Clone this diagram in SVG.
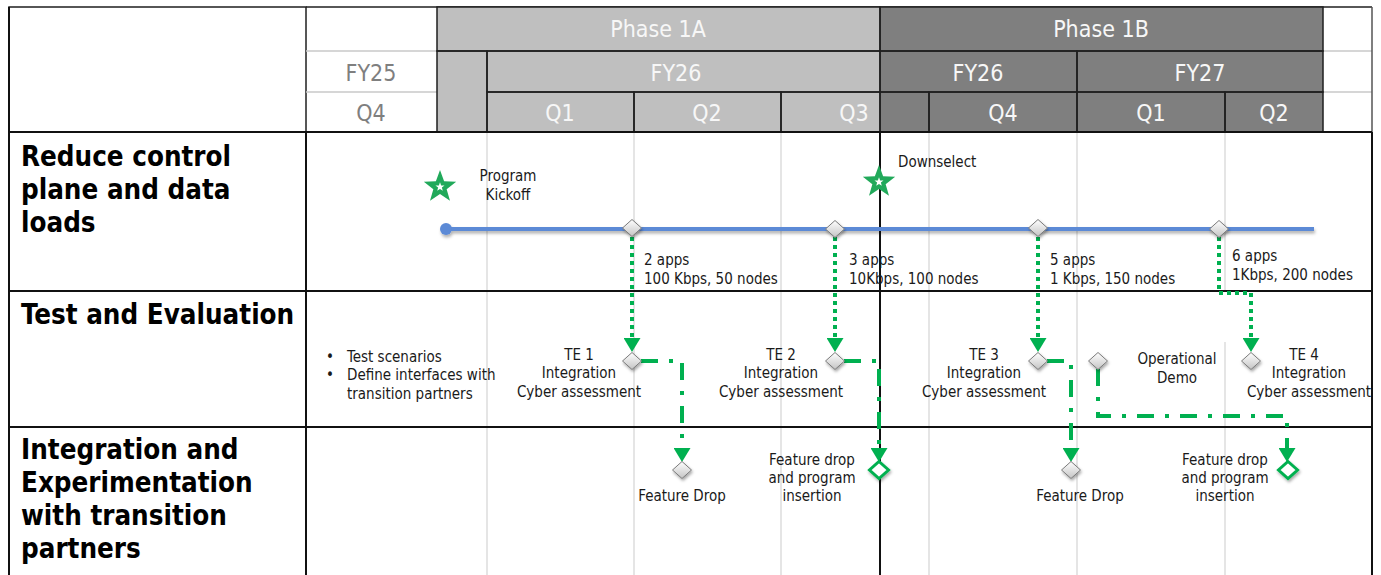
<svg xmlns="http://www.w3.org/2000/svg" width="1381" height="575" viewBox="0 0 1381 575">
<style>
text{font-family:"DejaVu Sans Condensed","Liberation Sans",sans-serif}
.hw{font-size:23px;fill:#f7f7f7;text-anchor:middle}
.hg{font-size:23px;fill:#7f7f7f;text-anchor:middle}
.lbl{font-size:27.5px;font-weight:bold;fill:#000}
.t{font-size:15px;fill:#1a1a1a}
.c{text-anchor:middle}
.dk{stroke:#1f1f1f;stroke-width:1.5;fill:none}
.lt{stroke:#c8c8c8;stroke-width:1.5}
.grid{stroke:#d4d4d4;stroke-width:1.2}
.bord{stroke:#111;stroke-width:2;fill:none}
.dot{fill:none;stroke:#00b050;stroke-width:4;stroke-dasharray:4 4;marker-end:url(#ah)}
.dd{fill:none;stroke:#00b050;stroke-width:4;stroke-dasharray:17 11 4 11;marker-end:url(#ah)}
.ms{fill:url(#dg);stroke:#7a7a7a;stroke-width:1;filter:url(#sh)}
.gms{fill:#fff;stroke:#00b050;stroke-width:3;filter:url(#sh)}
.star{fill:#21a95a}
</style>
<defs>
<linearGradient id="dg" x1="0" y1="0" x2="0" y2="1"><stop offset="0" stop-color="#ffffff"/><stop offset="1" stop-color="#c4c4c4"/></linearGradient>
<filter id="sh" x="-60%" y="-60%" width="220%" height="220%"><feDropShadow dx="1" dy="2" stdDeviation="1.5" flood-color="#000" flood-opacity="0.35"/></filter>
<filter id="shl" filterUnits="userSpaceOnUse" x="420" y="210" width="920" height="40"><feDropShadow dx="1" dy="2.5" stdDeviation="1.5" flood-color="#000" flood-opacity="0.3"/></filter>
<marker id="ah" markerUnits="userSpaceOnUse" markerWidth="14" markerHeight="17" viewBox="0 0 14 17" refX="0" refY="8.5" orient="auto"><path d="M0,0 L14,8.5 L0,17 Z" fill="#00b050"/></marker>
<path id="dia" d="M0,-8.5 L9.5,0 L0,8.5 L-9.5,0 Z"/>
<g id="st"><path class="star" d="M0,-17 L4.11,-5.66 L16.17,-5.25 L6.66,2.16 L9.99,13.75 L0,7 L-9.99,13.75 L-6.66,2.16 L-16.17,-5.25 L-4.11,-5.66 Z"/><path fill="#fff" transform="scale(0.28)" d="M0,-17 L4.11,-5.66 L16.17,-5.25 L6.66,2.16 L9.99,13.75 L0,7 L-9.99,13.75 L-6.66,2.16 L-16.17,-5.25 L-4.11,-5.66 Z"/></g>
</defs>
<rect width="1381" height="575" fill="#fff"/>

<g id="header">
  <rect x="9" y="7" width="297" height="125" fill="#fff" class="dk"/>
  <line x1="306" y1="51" x2="437" y2="51" class="lt"/>
  <line x1="306" y1="92" x2="437" y2="92" class="lt"/>
  <line x1="1323" y1="51" x2="1372" y2="51" class="lt"/>
  <line x1="1323" y1="92" x2="1372" y2="92" class="lt"/>
  <line x1="306" y1="7" x2="1372" y2="7" class="dk"/>
  <line x1="1372" y1="7" x2="1372" y2="132" stroke="#555" stroke-width="1.5"/>
  <text x="371" y="81" class="hg">FY25</text>
  <text x="371" y="121" class="hg">Q4</text>
  <rect x="437" y="7" width="443" height="125" fill="#bfbfbf"/>
  <rect x="880" y="7" width="443" height="125" fill="#7f7f7f"/>
  <rect x="437" y="7" width="443" height="44" class="dk"/>
  <rect x="487" y="51" width="393" height="41" class="dk"/>
  <rect x="437" y="51" width="50" height="81" class="dk"/>
  <rect x="487" y="92" width="147" height="40" class="dk"/>
  <rect x="634" y="92" width="147" height="40" class="dk"/>
  <rect x="781" y="92" width="99" height="40" class="dk"/>
  <rect x="880" y="7" width="443" height="44" class="dk"/>
  <rect x="880" y="51" width="197" height="41" class="dk"/>
  <rect x="1077" y="51" width="246" height="41" class="dk"/>
  <rect x="880" y="92" width="49" height="40" class="dk"/>
  <rect x="929" y="92" width="148" height="40" class="dk"/>
  <rect x="1077" y="92" width="148" height="40" class="dk"/>
  <rect x="1225" y="92" width="98" height="40" class="dk"/>
  <text x="658" y="37" class="hw">Phase 1A</text>
  <text x="1101" y="37" class="hw">Phase 1B</text>
  <text x="676" y="81" class="hw">FY26</text>
  <text x="978" y="81" class="hw">FY26</text>
  <text x="1200" y="81" class="hw">FY27</text>
  <text x="560" y="121" class="hw">Q1</text>
  <text x="707" y="121" class="hw">Q2</text>
  <text x="854" y="121" class="hw">Q3</text>
  <text x="1003" y="121" class="hw">Q4</text>
  <text x="1151" y="121" class="hw">Q1</text>
  <text x="1274" y="121" class="hw">Q2</text>
</g>

<g id="grid">
  <line x1="487" y1="132" x2="487" y2="575" class="grid"/>
  <line x1="634" y1="132" x2="634" y2="575" class="grid"/>
  <line x1="781" y1="132" x2="781" y2="575" class="grid"/>
  <line x1="929" y1="132" x2="929" y2="575" class="grid"/>
  <line x1="1077" y1="132" x2="1077" y2="575" class="grid"/>
  <line x1="1225" y1="132" x2="1225" y2="291" class="grid"/>
  <line x1="1225" y1="342" x2="1225" y2="575" class="grid"/>
  <line x1="880" y1="132" x2="880" y2="575" class="bord"/>
  <line x1="9" y1="132" x2="1372" y2="132" class="bord" stroke-width="2.5"/>
  <line x1="9" y1="291" x2="1372" y2="291" class="bord"/>
  <line x1="9" y1="427" x2="1372" y2="427" class="bord"/>
  <line x1="9" y1="7" x2="9" y2="575" class="bord" stroke-width="2.5"/>
  <line x1="306" y1="132" x2="306" y2="575" class="bord"/>
  <line x1="1372" y1="132" x2="1372" y2="575" class="bord"/>
</g>

<g id="row-labels">
  <text class="lbl" x="21" y="166">Reduce control</text>
  <text class="lbl" x="21" y="199">plane and data</text>
  <text class="lbl" x="21" y="232">loads</text>
  <text class="lbl" x="21" y="324">Test and Evaluation</text>
  <text class="lbl" x="21" y="459">Integration and</text>
  <text class="lbl" x="21" y="492">Experimentation</text>
  <text class="lbl" x="21" y="525">with transition</text>
  <text class="lbl" x="21" y="558">partners</text>
</g>

<g id="timeline" filter="url(#shl)">
  <rect x="446" y="227" width="868" height="4" fill="#5b8ad6"/>
  <circle cx="446" cy="229" r="6" fill="#5b8ad6"/>
</g>

<g id="connectors">
  <path class="dot" d="M632,237 V338"/>
  <path class="dot" d="M835,237 V338"/>
  <path class="dot" d="M1038,237 V338"/>
  <path class="dot" d="M1219,237 V293 H1251 V338"/>
  <path class="dd" d="M641,361 H682 V448"/>
  <path class="dd" d="M844,361 H879 V448"/>
  <path class="dd" d="M1047,361 H1071 V448"/>
  <path class="dd" d="M1098,369 V416 H1287 V448"/>
</g>

<g id="kickoff">
  <use href="#st" x="440" y="187"/>
  <text class="t c" x="508" y="181">Program</text>
  <text class="t c" x="508" y="200">Kickoff</text>
</g>
<g id="downselect">
  <use href="#st" x="879" y="182"/>
  <text class="t" x="898" y="167">Downselect</text>
</g>
<g id="m1">
  <use href="#dia" class="ms" x="632" y="228"/>
  <text class="t" x="644" y="265">2 apps</text>
  <text class="t" x="644" y="284">100 Kbps, 50 nodes</text>
</g>
<g id="m2">
  <use href="#dia" class="ms" x="835" y="229"/>
  <text class="t" x="849" y="265">3 apps</text>
  <text class="t" x="849" y="284">10Kbps, 100 nodes</text>
</g>
<g id="m3">
  <use href="#dia" class="ms" x="1038" y="228"/>
  <text class="t" x="1050" y="265">5 apps</text>
  <text class="t" x="1050" y="284">1 Kbps, 150 nodes</text>
</g>
<g id="m4">
  <use href="#dia" class="ms" x="1219" y="229"/>
  <text class="t" x="1232" y="261">6 apps</text>
  <text class="t" x="1232" y="280">1Kbps, 200 nodes</text>
</g>

<g id="te-notes">
  <text class="t" x="326" y="362">•</text>
  <text class="t" x="347" y="362">Test scenarios</text>
  <text class="t" x="326" y="380">•</text>
  <text class="t" x="347" y="380">Define interfaces with</text>
  <text class="t" x="347" y="399">transition partners</text>
</g>
<g id="te1">
  <use href="#dia" class="ms" x="632" y="361"/>
  <text class="t c" x="579" y="360">TE 1</text>
  <text class="t c" x="579" y="378">Integration</text>
  <text class="t c" x="579" y="397">Cyber assessment</text>
</g>
<g id="te2">
  <use href="#dia" class="ms" x="835" y="361"/>
  <text class="t c" x="781" y="360">TE 2</text>
  <text class="t c" x="781" y="378">Integration</text>
  <text class="t c" x="781" y="397">Cyber assessment</text>
</g>
<g id="te3">
  <use href="#dia" class="ms" x="1038" y="361"/>
  <text class="t c" x="984" y="360">TE 3</text>
  <text class="t c" x="984" y="378">Integration</text>
  <text class="t c" x="984" y="397">Cyber assessment</text>
</g>
<g id="opdemo">
  <use href="#dia" class="ms" x="1098" y="361"/>
  <text class="t c" x="1177" y="364">Operational</text>
  <text class="t c" x="1177" y="383">Demo</text>
</g>
<g id="te4">
  <use href="#dia" class="ms" x="1251" y="361"/>
  <text class="t c" x="1304" y="360">TE 4</text>
  <text class="t c" x="1309" y="378">Integration</text>
  <text class="t c" x="1309" y="397">Cyber assessment</text>
</g>

<g id="fd1">
  <use href="#dia" class="ms" x="682" y="470"/>
  <text class="t c" x="682" y="501">Feature Drop</text>
</g>
<g id="fd2">
  <use href="#dia" class="gms" x="879" y="470"/>
  <text class="t c" x="812" y="465">Feature drop</text>
  <text class="t c" x="812" y="483">and program</text>
  <text class="t c" x="812" y="501">insertion</text>
</g>
<g id="fd3">
  <use href="#dia" class="ms" x="1071" y="470"/>
  <text class="t c" x="1080" y="501">Feature Drop</text>
</g>
<g id="fd4">
  <use href="#dia" class="gms" x="1288" y="470"/>
  <text class="t c" x="1225" y="465">Feature drop</text>
  <text class="t c" x="1225" y="483">and program</text>
  <text class="t c" x="1225" y="501">insertion</text>
</g>
</svg>
